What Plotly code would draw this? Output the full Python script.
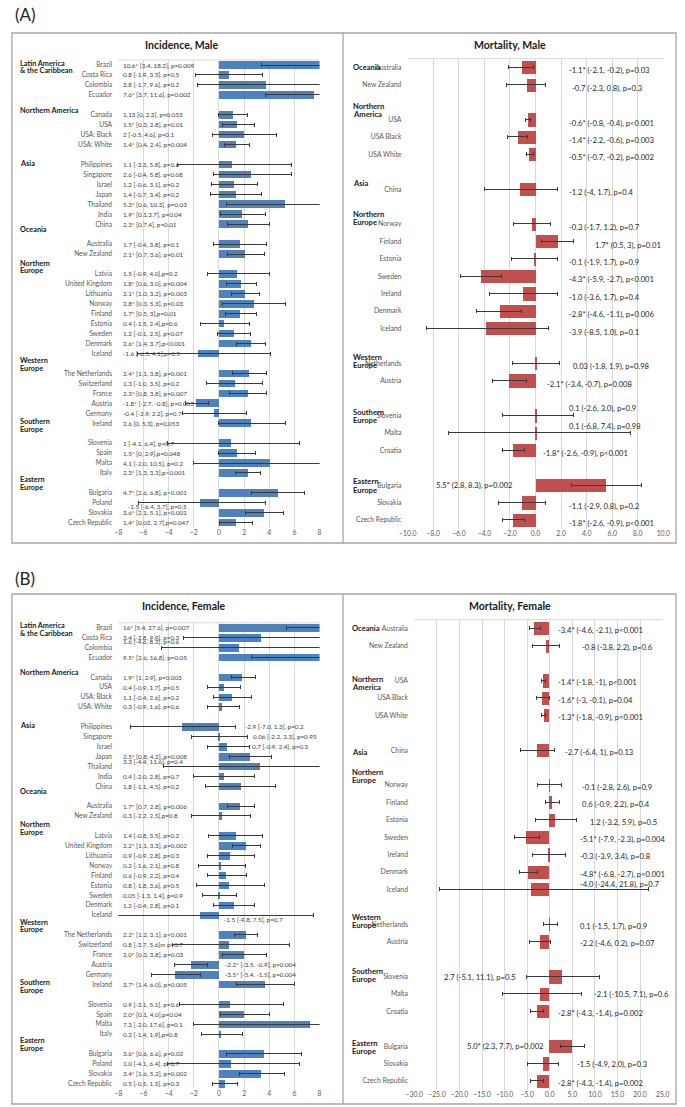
import plotly.graph_objects as go

W, H = 685, 1107
FONT = "Lato"

# ---------------- DATA ----------------
inc_countries = ["Brazil", "Costa Rica", "Colombia", "Ecuador",
                 "Canada", "USA", "USA: Black", "USA: White",
                 "Philippines", "Singapore", "Israel", "Japan", "Thailand", "India", "China",
                 "Australia", "New Zealand",
                 "Latvia", "United Kingdom", "Lithuania", "Norway", "Finland", "Estonia", "Sweden", "Denmark", "Iceland",
                 "The Netherlands", "Switzerland", "France", "Austria", "Germany", "Ireland",
                 "Slovenia", "Spain", "Malta", "Italy",
                 "Bulgaria", "Poland", "Slovakia", "Czech Republic"]
inc_group_sizes = [4, 4, 7, 2, 9, 6, 4, 4]

inc_male_apc = [10.6, 0.8, 3.8, 7.6, 1.13, 1.5, 2, 1.4, 1.1, 2.6, 1.2, 1.4, 5.3, 1.9, 2.3, 1.7, 2.1,
                1.5, 1.8, 2.1, 2.8, 1.7, 0.4, 1.2, 2.6, -1.6, 2.4, 1.3, 2.3, -1.8, -0.4, 2.6,
                1, 1.5, 4.1, 2.3, 4.7, -1.5, 3.6, 1.4]
inc_male_lo = [3.4, -1.9, -1.7, 3.7, 0, 0.3, -0.5, 0.4, -3.3, -0.4, -0.6, -0.7, 0.6, 0.1, 0.7, -0.4, 0.7,
               -0.9, 0.6, 1.0, 0.3, 0.5, -1.5, -0.1, 1.4, -6.5, 1.1, -1.0, 0.8, -2.7, -2.9, 0,
               -4.1, 0, -2.0, 1.3, 2.6, -6.4, 2.1, 0.02]
inc_male_hi = [18.2, 3.5, 9.6, 11.6, 2.3, 2.8, 4.6, 2.4, 5.8, 5.8, 3.1, 3.4, 10.3, 3.7, 4, 3.8, 3.6,
               4.0, 3.0, 3.2, 5.3, 3, 2.4, 2.5, 3.7, 4.1, 3.8, 3.5, 3.8, -0.8, 2.2, 5.3,
               6.4, 2.9, 10.5, 3.3, 6.8, 3.7, 5.1, 2.7]
inc_male_text = ["10.6* [3.4, 18.2], p=0.009", "0.8 [-1.9, 3.5], p=0.5", "3.8 [-1.7, 9.6], p=0.2",
                 "7.6* [3.7, 11.6], p=0.002", "1.13 [0, 2.3], p=0.053", "1.5* [0.3, 2.8], p=0.01",
                 "2 [-0.5, 4.6], p=0.1", "1.4* [0.4, 2.4], p=0.004", "1.1 [-3.3, 5.8], p=0.6",
                 "2.6 [-0.4, 5.8], p=0.08", "1.2 [-0.6, 3.1], p=0.2", "1.4 [-0.7, 3.4], p=0.2",
                 "5.3* [0.6, 10.3], p=0.03", "1.9* [0.1,3.7], p=0.04", "2.3* [0.7,4], p=0.01",
                 "1.7 [-0.4, 3.8], p=0.1", "2.1* [0.7, 3.6], p=0.01", "1.5 [-0.9, 4.0],p=0.2",
                 "1.8* [0.6, 3.0], p=0.004", "2.1* [1.0, 3.2], p=0.003", "2.8* [0.3, 5.3], p=0.03",
                 "1.7* [0.5, 3],p=0.01", "0.4 [-1.5, 2.4],p=0.6", "1.2 [-0.1, 2.5], p=0.07",
                 "2.6* [1.4, 3.7],p<0.001", "-1.6 [-6.5, 4.1],p=0.5", "2.4* [1.1, 3.8], p=0.001",
                 "1.3 [-1.0, 3.5], p=0.2", "2.3* [0.8, 3.8], p=0.007", "-1.8* [-2.7, -0.8], p=0.003",
                 "-0.4 [-2.9, 2.2], p=0.7", "2.6 [0, 5.3], p=0.053", "1 [-4.1, 6.4], p=0.7",
                 "1.5* [0, 2.9],p=0.048", "4.1 [-2.0, 10.5], p=0.2", "2.3* [1.3, 3.3],p<0.001",
                 "4.7* [2.6, 6.8], p<0.001", "-1.5 [-6.4, 3.7], p=0.5", "3.6* [2.1, 5.1], p<0.001",
                 "1.4* [0.02, 2.7],p=0.047"]

inc_female_apc = [16, 3.4, 1.6, 9.5, 1.9, 0.4, 1.1, 0.3, -2.9, 0.06, 0.7, 2.5, 3.3, 0.4, 1.8, 1.7, 0.3,
                  1.4, 2.2, 0.9, 0.2, 0.6, 0.8, 0.05, 1.2, -1.5, 2.2, 0.8, 2.0, -2.2, -3.5, 3.7,
                  0.9, 2.0, 7.3, 0.2, 3.6, 1.0, 3.4, 0.5]
inc_female_lo = [5.4, -2.8, -4.6, 2.6, 1, -0.9, -0.4, -0.9, -7.0, -2.2, -0.9, 0.8, -4.4, -2.0, -1.1, 0.7, -2.2,
                 -0.8, 1.1, -0.9, -1.6, -0.9, -1.8, -1.3, -0.4, -9.8, 1.2, -3.7, 0.3, -3.5, -5.4, 1.4,
                 -3.1, 0.1, -2.0, -1.4, 0.6, -4.1, 1.6, -0.5]
inc_female_hi = [27.6, 9.9, 8.3, 16.8, 2.9, 1.7, 2.6, 1.6, 1.3, 2.3, 2.4, 4.2, 11.6, 2.8, 4.5, 2.8, 2.5,
                 3.5, 3.3, 2.8, 2.1, 2.2, 3.6, 1.4, 2.8, 7.5, 3.1, 5.6, 3.8, -0.9, -1.5, 6.0,
                 5.1, 4.0, 17.6, 1.9, 6.6, 6.4, 5.2, 1.5]
inc_female_text = ["16* [5.4, 27.6], p=0.007", "3.4 [-2.8, 9.9], p=0.3", "1.6 [-4.6, 8.3], p=0.6",
                   "9.5* [2.6, 16.8], p=0.05", "1.9* [1, 2.9], p=0.003", "0.4 [-0.9, 1.7], p=0.5",
                   "1.1 [-0.4, 2.6], p=0.2", "0.3 [-0.9, 1.6], p=0.6", "-2.9 [-7.0, 1.3], p=0.2",
                   "0.06 [-2.2, 2.3], p=0.95", "0.7 [-0.9, 2.4], p=0.3", "2.5* [0.8, 4.2], p=0.008",
                   "3.3 [-4.4, 11.6], p=0.4", "0.4 [-2.0, 2.8], p=0.7", "1.8 [-1.1, 4.5], p=0.2",
                   "1.7* [0.7, 2.8], p=0.006", "0.3 [-2.2, 2.5],p=0.8", "1.4 [-0.8, 3.5], p=0.2",
                   "2.2* [1.1, 3.3], p=0.002", "0.9 [-0.9, 2.8], p=0.3", "0.2 [-1.6, 2.1], p=0.8",
                   "0.6 [-0.9, 2.2], p=0.4", "0.8 [-1.8, 3.6], p=0.5", "0.05 [-1.3, 1.4], p=0.9",
                   "1.2 [-0.4, 2.8], p=0.1", "-1.5 [-9.8, 7.5], p=0.7", "2.2* [1.2, 3.1], p<0.001",
                   "0.8 [-3.7, 5.6]m p=0.7", "2.0* [0.3, 3.8], p=0.03", "-2.2* [-3.5, -0.9], p=0.004",
                   "-3.5* [-5.4, -1.5], p=0.004", "3.7* [1.4, 6.0], p=0.005", "0.9 [-3.1, 5.1], p=0.6",
                   "2.0* [0.1, 4.0],p=0.04", "7.3 [-2.0, 17.6], p=0.1", "0.2 [-1.4, 1.9],p=0.8",
                   "3.6* [0.6, 6.6], p=0.02", "1.0 [-4.1, 6.4], p=0.7", "3.4* [1.6, 5.2], p=0.002",
                   "0.5 [-0.5, 1.5], p=0.3"]

mort_countries = ["Australia", "New Zealand", "USA", "USA Black", "USA White", "China",
                  "Norway", "Finland", "Estonia", "Sweden", "Ireland", "Denmark", "Iceland",
                  "Netherlands", "Austria", "Slovenia", "Malta", "Croatia",
                  "Bulgaria", "Slovakia", "Czech Republic"]
mort_group_sizes = [2, 3, 1, 7, 2, 3, 3]

mort_male_apc = [-1.1, -0.7, -0.6, -1.4, -0.5, -1.2, -0.3, 1.7, -0.1, -4.3, -1.0, -2.8, -3.9,
                 0.03, -2.1, 0.1, 0.1, -1.8, 5.5, -1.1, -1.8]
mort_male_lo = [-2.1, -2.3, -0.8, -2.2, -0.7, -4, -1.7, 0.5, -1.9, -5.9, -3.6, -4.6, -8.5,
                -1.8, -3.4, -2.6, -6.8, -2.6, 2.8, -2.9, -2.6]
mort_male_hi = [-0.2, 0.8, -0.4, -0.6, -0.2, 1.7, 1.2, 3, 1.7, -2.7, 1.7, -1.1, 1.0,
                1.9, -0.7, 3.0, 7.4, -0.9, 8.3, 0.8, -0.9]
mort_male_text = ["-1.1* (-2.1, -0.2), p=0.03", "-0.7 (-2.3, 0.8), p=0.3", "-0.6* (-0.8, -0.4), p<0.001",
                  "-1.4* (-2.2, -0.6), p=0.003", "-0.5* (-0.7, -0.2), p=0.002", "-1.2 (-4, 1.7), p=0.4",
                  "-0.3 (-1.7, 1.2), p=0.7", "1.7* (0.5, 3), p=0.01", "-0.1 (-1.9, 1.7), p=0.9",
                  "-4.3* (-5.9, -2.7), p<0.001", "-1.0 (-3.6, 1.7), p=0.4", "-2.8* (-4.6, -1.1), p=0.006",
                  "-3.9 (-8.5, 1.0), p=0.1", "0.03 (-1.8, 1.9), p=0.98", "-2.1* (-3.4, -0.7), p=0.008",
                  "0.1 (-2.6, 3.0), p=0.9", "0.1 (-6.8, 7.4), p=0.98", "-1.8* (-2.6, -0.9), p<0.001",
                  "5.5* (2.8, 8.3), p=0.002", "-1.1 (-2.9, 0.8), p=0.2", "-1.8* (-2.6, -0.9), p<0.001"]

mort_female_apc = [-3.4, -0.8, -1.4, -1.6, -1.3, -2.7, -0.1, 0.6, 1.2, -5.1, -0.3, -4.8, -4.0,
                   0.1, -2.2, 2.7, -2.1, -2.8, 5.0, -1.5, -2.8]
mort_female_lo = [-4.6, -3.8, -1.8, -3, -1.8, -6.4, -2.8, -0.9, -3.2, -7.9, -3.9, -6.8, -24.4,
                  -1.5, -4.6, -5.1, -10.5, -4.3, 2.3, -4.9, -4.3]
mort_female_hi = [-2.1, 2.2, -1, -0.1, -0.9, 1, 2.6, 2.2, 5.9, -2.3, 3.4, -2.7, 21.8,
                  1.7, 0.2, 11.1, 7.1, -1.4, 7.7, 2.0, -1.4]
mort_female_text = ["-3.4* (-4.6, -2.1), p<0.001", "-0.8 (-3.8, 2.2), p=0.6", "-1.4* (-1.8, -1), p<0.001",
                    "-1.6* (-3, -0.1), p=0.04", "-1.3* (-1.8, -0.9), p<0.001", "-2.7 (-6.4, 1), p=0.13",
                    "-0.1 (-2.8, 2.6), p=0.9", "0.6 (-0.9, 2.2), p=0.4", "1.2 (-3.2, 5.9), p=0.5",
                    "-5.1* (-7.9, -2.3), p=0.004", "-0.3 (-3.9, 3.4), p=0.8", "-4.8* (-6.8, -2.7), p<0.001",
                    "-4.0 (-24.4, 21.8), p=0.7", "0.1 (-1.5, 1.7), p=0.9", "-2.2 (-4.6, 0.2), p=0.07",
                    "2.7 (-5.1, 11.1), p=0.5", "-2.1 (-10.5, 7.1), p=0.6", "-2.8* (-4.3, -1.4), p=0.002",
                    "5.0* (2.3, 7.7), p=0.002", "-1.5 (-4.9, 2.0), p=0.3", "-2.8* (-4.3, -1.4), p=0.002"]

inc_ticks = [-8, -6, -4, -2, 0, 2, 4, 6, 8]
mort_male_ticks = [-10, -8, -6, -4, -2, 0, 2, 4, 6, 8, 10]
mort_female_ticks = [-30, -25, -20, -15, -10, -5, 0, 5, 10, 15, 20, 25]

# ---------------- LAYOUT HELPERS ----------------
def rows_for(sizes):
    rows, r = [], 0
    for s in sizes:
        rows.extend(range(r, r + s))
        r += s + 1
    return rows, rows[-1]

inc_rows, inc_n = rows_for(inc_group_sizes)
mort_rows, mort_n = rows_for(mort_group_sizes)

def pxx(x):
    return x / W

def pyy(y):
    return min(1.0, max(0.0, 1 - y / H))

# label placement (layout only): country -> (x in data units, row offset)
inc_male_lab_default = -7.8
inc_male_lab_over = {"Poland": (-7.4, 0.35)}
inc_female_lab_over = {"Colombia": (-7.8, -0.6), "Philippines": (1.95, 0), "Singapore": (2.55, 0),
                       "Israel": (2.45, 0), "Thailand": (-7.8, -0.5), "Iceland": (0.25, 0.4),
                       "Austria": (0.3, 0), "Germany": (0.3, 0)}
mort_male_lab_default = 2.44
mort_male_lab_over = {"New Zealand": (2.67, 0.18), "Finland": (4.5, 0.18), "Netherlands": (2.75, 0.18),
                      "Austria": (0.76, 0.18), "Croatia": (0.46, 0.18), "Bulgaria": (-7.95, 0.0),
                      "Slovenia": (2.44, -0.42), "Malta": (2.44, -0.38)}
mort_female_lab_default = 1.45
mort_female_lab_over = {"New Zealand": (6.7, 0.1), "China": (2.97, 0.1), "Norway": (6.7, 0.1),
                        "Finland": (6.7, 0.1), "Estonia": (8.5, 0.1), "Sweden": (6.34, 0.1),
                        "Ireland": (6.34, 0.1), "Denmark": (6.34, 0.1), "Iceland": (6.34, -0.3),
                        "Netherlands": (6.34, 0.1), "Austria": (6.34, 0.1), "Slovenia": (-23.8, 0.0),
                        "Malta": (9.3, 0.0), "Bulgaria": (-18.7, 0.0), "Slovakia": (5.6, 0.0)}

inc_head_lines = [("Latin America", -0.2), ("& the Caribbean", 0.6), ("Northern America", 4.55),
                  ("Asia", 9.9), ("Oceania", 16.5), ("Northern", 19.9), ("Europe", 20.7),
                  ("Western", 29.7), ("Europe", 30.5), ("Southern", 35.8), ("Europe", 36.6),
                  ("Eastern", 41.7), ("Europe", 42.5)]
mort_male_head_lines = [("Oceania", 0), ("Northern", 2.22), ("America", 2.7), ("Asia", 6.66),
                        ("Northern", 8.43), ("Europe", 8.9), ("Western", 16.62), ("Europe", 17.08),
                        ("Southern", 19.78), ("Europe", 20.26), ("Eastern", 23.78), ("Europe", 24.26)]
mort_female_head_lines = [("Oceania", 0), ("Northern", 2.91), ("America", 3.39), ("Asia", 7.09),
                          ("Northern", 8.27), ("Europe", 8.73), ("Western", 16.57), ("Europe", 17.06),
                          ("Southern", 19.68), ("Europe", 20.16), ("Eastern", 23.84), ("Europe", 24.3)]

BLUE = "#4F81BD"
RED = "#C0504D"
ERR = "#3a3a3a"

panels = [
    dict(ax="", names=inc_countries, rows=inc_rows, n=inc_n, v=inc_male_apc, lo=inc_male_lo, hi=inc_male_hi,
         text=inc_male_text, color=BLUE, xr=[-8, 8], ticks=inc_ticks, fmt="d", xpx=(112, 318),
         r0=65.0, step=9.95, ldef=inc_male_lab_default, ldy=0, lover=inc_male_lab_over, lfs=6.3, lcol="#404040",
         heads=inc_head_lines, hx=9, hfs=7.3, cfs=6.6),
    dict(ax="2", names=mort_countries, rows=mort_rows, n=mort_n, v=mort_male_apc, lo=mort_male_lo, hi=mort_male_hi,
         text=mort_male_text, color=RED, xr=[-10, 10], ticks=mort_male_ticks, fmt=".1f", xpx=(408.3, 670),
         r0=67.3, step=17.41, ldef=mort_male_lab_default, ldy=0.18, lover=mort_male_lab_over, lfs=7.6, lcol="#262626",
         heads=mort_male_head_lines, hx=350, hfs=7.6, cfs=6.8),
    dict(ax="3", names=inc_countries, rows=inc_rows, n=inc_n, v=inc_female_apc, lo=inc_female_lo, hi=inc_female_hi,
         text=inc_female_text, color=BLUE, xr=[-8, 8], ticks=inc_ticks, fmt="d", xpx=(112, 318),
         r0=627.7, step=9.91, ldef=inc_male_lab_default, ldy=0, lover=inc_female_lab_over, lfs=6.3, lcol="#404040",
         heads=inc_head_lines, hx=9, hfs=7.3, cfs=6.6),
    dict(ax="4", names=mort_countries, rows=mort_rows, n=mort_n, v=mort_female_apc, lo=mort_female_lo, hi=mort_female_hi,
         text=mort_female_text, color=RED, xr=[-30, 25], ticks=mort_female_ticks, fmt=".1f", xpx=(415, 669.3),
         r0=628.3, step=17.41, ldef=mort_female_lab_default, ldy=0.1, lover=mort_female_lab_over, lfs=7.6, lcol="#262626",
         heads=mort_female_head_lines, hx=349, hfs=7.6, cfs=6.8),
]

fig = go.Figure()
annotations = []
shapes = []
layout_axes = {}

for p in panels:
    xa, ya = "x" + p["ax"], "y" + p["ax"]
    plus = [h - v for v, h in zip(p["v"], p["hi"])]
    minus = [v - l for v, l in zip(p["v"], p["lo"])]
    fig.add_trace(go.Bar(
        x=p["v"], y=p["rows"], orientation="h", xaxis=xa, yaxis=ya,
        marker=dict(color=p["color"], line=dict(width=0)), width=0.76,
        error_x=dict(type="data", symmetric=False, array=plus, arrayminus=minus,
                     color=ERR, thickness=1, width=2),
        showlegend=False, hoverinfo="skip"))
    top = p["r0"] - 0.5 * p["step"]
    bot = p["r0"] + (p["n"] + 0.5) * p["step"]
    layout_axes["xaxis" + p["ax"]] = dict(
        domain=[pxx(p["xpx"][0]), pxx(p["xpx"][1])], range=p["xr"], anchor=ya,
        tickvals=p["ticks"], tickformat=p["fmt"], showgrid=True, gridcolor="#d9d9d9", gridwidth=1,
        zeroline=False, showline=False, ticks="", tickfont=dict(size=6.8, color="#595959", family=FONT),
        fixedrange=True)
    layout_axes["yaxis" + p["ax"]] = dict(
        domain=[pyy(bot), pyy(top)], range=[p["n"] + 0.5, -0.5], anchor=xa,
        tickvals=p["rows"], ticktext=p["names"], ticks="outside", ticklen=4,
        tickcolor="rgba(0,0,0,0)", showgrid=False, zeroline=False, showline=False,
        tickfont=dict(size=p["cfs"], color="#595959", family=FONT), fixedrange=True)
    shapes.append(dict(type="line", xref=xa + " domain", yref=ya + " domain", x0=0, x1=1, y0=1, y1=1,
                       line=dict(color="#d9d9d9", width=1)))
    for name, r, t in zip(p["names"], p["rows"], p["text"]):
        lx, dy = p["lover"].get(name, (p["ldef"], p["ldy"]))
        annotations.append(dict(x=lx, y=r + dy, xref=xa, yref=ya, text=t, showarrow=False,
                                xanchor="left", yanchor="middle",
                                font=dict(size=p["lfs"], color=p["lcol"], family=FONT)))
    for txt, r in p["heads"]:
        annotations.append(dict(x=pxx(p["hx"]), y=r, xref="paper", yref=ya, text="<b>" + txt + "</b>",
                                showarrow=False, xanchor="left", yanchor="middle",
                                font=dict(size=p["hfs"], color="#1a1a1a", family=FONT)))

titles = [("Incidence, Male", 177, 45), ("Mortality, Male", 512.5, 45),
          ("Incidence, Female", 179.5, 606), ("Mortality, Female", 513, 606)]
for t, x, y in titles:
    annotations.append(dict(x=pxx(x), y=pyy(y), xref="paper", yref="paper", text="<b>" + t + "</b>",
                            showarrow=False, xanchor="center", yanchor="middle",
                            font=dict(size=10.5, color="#1a1a1a", family=FONT)))
for t, y in [("(A)", 14), ("(B)", 578)]:
    annotations.append(dict(x=pxx(4), y=pyy(y), xref="paper", yref="paper", text=t, showarrow=False,
                            xanchor="left", yanchor="middle", font=dict(size=17, color="#222222", family=FONT)))

for y0, y1 in [(33, 543), (594, 1104)]:
    shapes.append(dict(type="rect", xref="paper", yref="paper", x0=pxx(3), x1=pxx(683), y0=pyy(y1), y1=pyy(y0),
                       line=dict(color="#a6a6a6", width=1.3)))
    shapes.append(dict(type="line", xref="paper", yref="paper", x0=pxx(342), x1=pxx(342), y0=pyy(y1), y1=pyy(y0),
                       line=dict(color="#a6a6a6", width=1.3)))

fig.update_layout(
    width=W, height=H, autosize=False,
    margin=dict(l=0, r=0, t=0, b=0),
    paper_bgcolor="white", plot_bgcolor="white",
    font=dict(family=FONT, color="#404040"),
    bargap=0, annotations=annotations, shapes=shapes,
    **layout_axes)

fig.write_html("out.html", config={"displayModeBar": False},
               post_script="document.body.style.margin='0';document.body.style.overflow='hidden';")
